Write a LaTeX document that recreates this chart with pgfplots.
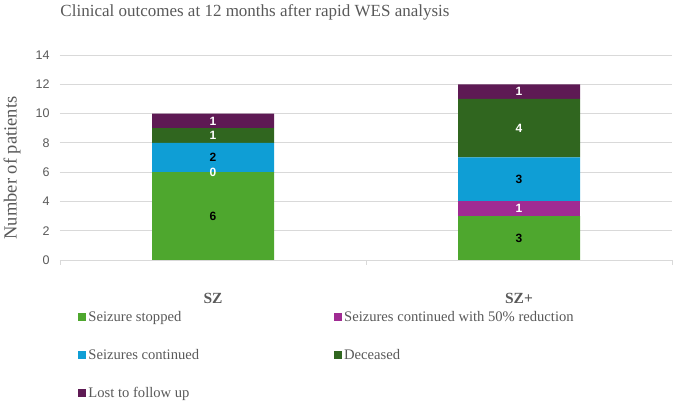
\documentclass[border=0pt]{standalone}
\usepackage{fontspec}
\setmainfont{Liberation Serif}
\setsansfont{Liberation Sans}
\usepackage{pgfplots}
\pgfplotsset{compat=1.18}
\definecolor{cStop}{HTML}{4EA72E}
\definecolor{cRed}{HTML}{A02B93}
\definecolor{cCont}{HTML}{0F9ED5}
\definecolor{cDec}{HTML}{30661F}
\definecolor{cLost}{HTML}{5E1A54}
\definecolor{txt}{HTML}{595959}
\definecolor{grd}{HTML}{D9D9D9}
\begin{document}
\begin{tikzpicture}
\useasboundingbox (0pt,0pt) rectangle (673pt,401pt);
\begin{axis}[
  at={(60pt,141pt)}, anchor=south west,
  scale only axis, width=612pt, height=205pt,
  ybar stacked, bar width=122pt,
  xmin=-0.5, xmax=1.5, ymin=0, ymax=14,
  xtick={-0.5,0.5,1.5}, xticklabels={},
  x tick style={draw=grd, line width=0.8pt},
  xtick align=outside, major tick length=5pt,
  extra x ticks={0,1}, extra x tick labels={SZ,SZ+},
  extra x tick style={major tick length=0pt, grid=none,
    xticklabel style={font=\fontsize{15.5}{18}\selectfont\bfseries, text=txt, yshift=-30pt}},
  ytick={0,2,...,14},
  yticklabel style={font=\sffamily\fontsize{12.5}{14}\selectfont, text=txt, xshift=-7pt},
  /pgf/number format/assume math mode=true,
  ymajorgrids, grid style={grd, line width=0.8pt},
  y tick style={draw=none},
  axis x line*=bottom, axis y line*=left,
  y axis line style={draw=none},
  x axis line style={grd, line width=0.8pt, -},
  legend columns=2,
  legend cell align=left,
  legend style={draw=none, fill=none, at={(axis description cs:0.025,-0.23)}, anchor=north west,
    font=\fontsize{14.6}{16}\selectfont, text=txt, row sep=22.5pt,
    /tikz/every even column/.append style={column sep=133pt}},
  legend image code/.code={\fill[#1] (0pt,-4pt) rectangle (8pt,4pt);},
  legend entries={Seizure stopped, Seizures continued with 50\% reduction, Seizures continued, Deceased, Lost to follow up},
]
\addplot[fill=cStop, draw=none] coordinates {(0,6) (1,3)};
\addplot[fill=cRed, draw=none] coordinates {(0,0) (1,1)};
\addplot[fill=cCont, draw=none] coordinates {(0,2) (1,3)};
\addplot[fill=cDec, draw=none] coordinates {(0,1) (1,4)};
\addplot[fill=cLost, draw=none] coordinates {(0,1) (1,1)};
\end{axis}
\begin{axis}[
  at={(60pt,141pt)}, anchor=south west,
  scale only axis, width=612pt, height=205pt,
  xmin=-0.5, xmax=1.5, ymin=0, ymax=14, hide axis,
  nodes near coords, point meta=explicit symbolic,
  every node near coord/.append style={anchor=center, font=\sffamily\bfseries\fontsize{12}{14}\selectfont},
]
\addplot[only marks, mark=none, nodes near coords style={text=black}] coordinates {(0,3) [6] (0,7) [2] (1,1.5) [3] (1,5.5) [3]};
\addplot[only marks, mark=none, nodes near coords style={text=white}] coordinates {(0,6) [0] (0,8.5) [1] (0,9.5) [1] (1,3.5) [1] (1,9) [4] (1,11.5) [1]};
\end{axis}
\node[text=txt, font=\fontsize{17}{20}\selectfont] at (255pt,389pt) {Clinical outcomes at 12 months after rapid WES analysis};
\node[text=txt, font=\fontsize{18.5}{22}\selectfont, rotate=90] at (12pt,233pt) {Number of patients};
\end{tikzpicture}
\end{document}
